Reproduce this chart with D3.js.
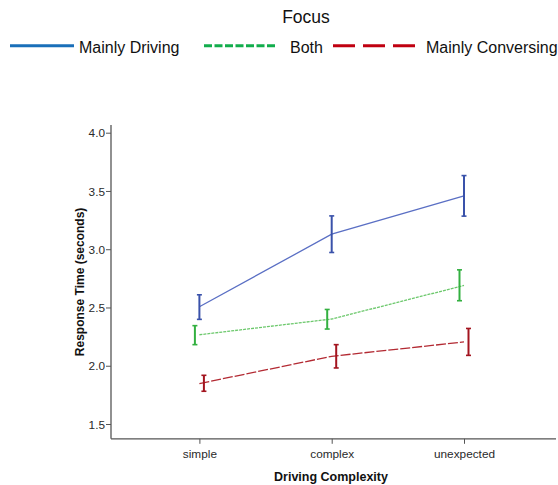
<!DOCTYPE html>
<html>
<head>
<meta charset="utf-8">
<script src="https://cdn.jsdelivr.net/npm/d3@7"></script>
<style>
  html, body { margin: 0; padding: 0; background: #fff; }
  svg { display: block; font-family: "Liberation Sans", Arial, sans-serif; }
</style>
</head>
<body>
<svg id="chart" width="558" height="485"></svg>
<script>
// Driving complexity levels (x axis)
const categories = ["simple", "complex", "unexpected"];

// Mean response time (seconds) for each focus group
const drivingMean = [2.506, 3.129, 3.458];
const bothMean = [2.266, 2.401, 2.689];
const conversingMean = [1.847, 2.081, 2.204];

// Error bar bounds
const drivingLow = [2.398, 2.972, 3.284];
const drivingHigh = [2.609, 3.286, 3.632];
const bothLow = [2.181, 2.315, 2.558];
const bothHigh = [2.344, 2.483, 2.823];
const conversingLow = [1.781, 1.981, 2.089];
const conversingHigh = [1.918, 2.181, 2.320];

// Y axis ticks
const yTicks = [1.5, 2.0, 2.5, 3.0, 3.5, 4.0];

const series = [
  { name: "Mainly Driving", mean: drivingMean, low: drivingLow, high: drivingHigh,
    legendColor: "#1a6fb9", lineColor: "#5a6fc4", barColor: "#3a52aa",
    legendDash: null, lineDash: null, dodge: 0 },
  { name: "Both", mean: bothMean, low: bothLow, high: bothHigh,
    legendColor: "#12ad4c", lineColor: "#6cc86c", barColor: "#33b040",
    legendDash: "8,2.5", lineDash: "3,1", dodge: -4.5 },
  { name: "Mainly Conversing", mean: conversingMean, low: conversingLow, high: conversingHigh,
    legendColor: "#c00010", lineColor: "#b32a33", barColor: "#a3141f",
    legendDash: "22,8", lineDash: "10,2", dodge: 4.5 }
];

const svg = d3.select("#chart");

const axisLeftX = 111;
const axisRightX = 556;
const x = d3.scalePoint().domain(categories).range([199.4, 464]);
const y = d3.scaleLinear().domain([1.5, 4.0]).range([424, 132.7]);
const yMin = 1.373, yMax = 4.066;

// Legend
svg.append("text")
  .attr("x", 306).attr("y", 23)
  .attr("text-anchor", "middle")
  .attr("font-size", 17.5)
  .attr("fill", "#111")
  .text("Focus");

const legendItems = [
  { x1: 10, x2: 74, tx: 79 },
  { x1: 204, x2: 277, tx: 290 },
  { x1: 333, x2: 419, tx: 426 }
];
legendItems.forEach((li, i) => {
  const s = series[i];
  svg.append("line")
    .attr("x1", li.x1).attr("x2", li.x2)
    .attr("y1", 45.7).attr("y2", 45.7)
    .attr("stroke", s.legendColor)
    .attr("stroke-width", 3)
    .attr("stroke-dasharray", s.legendDash);
  svg.append("text")
    .attr("x", li.tx).attr("y", 52.5)
    .attr("font-size", 16)
    .attr("fill", "#111")
    .text(s.name);
});

// Axes
const gx = svg.append("g").attr("transform", `translate(0,${y(yMin)})`);
gx.call(d3.axisBottom(x).tickSize(5).tickPadding(6));
gx.select(".domain").remove();
gx.append("line")
  .attr("x1", axisLeftX).attr("x2", axisRightX)
  .attr("y1", 0).attr("y2", 0)
  .attr("stroke", "#555").attr("stroke-width", 1.3);

const gy = svg.append("g").attr("transform", `translate(${axisLeftX},0)`);
gy.call(d3.axisLeft(y).tickValues(yTicks).tickFormat(d3.format(".1f")).tickSize(5).tickPadding(1));
gy.select(".domain").remove();
gy.append("line")
  .attr("x1", 0).attr("x2", 0)
  .attr("y1", y(yMax)).attr("y2", y(yMin))
  .attr("stroke", "#555").attr("stroke-width", 1.3);

[gx, gy].forEach(g => {
  g.selectAll(".tick line").attr("stroke", "#555");
  g.selectAll(".tick text")
    .attr("fill", "#2a2a2a")
    .attr("font-size", 11.8)
    .attr("font-family", "'Liberation Sans', Arial, sans-serif");
});
gy.selectAll(".tick text").attr("dy", "0.36em");

// Axis titles
svg.append("text")
  .attr("x", 331).attr("y", 481)
  .attr("text-anchor", "middle")
  .attr("font-size", 12.5)
  .attr("font-weight", "bold")
  .attr("fill", "#111")
  .text("Driving Complexity");

svg.append("text")
  .attr("transform", `translate(84,${(y(yMax) + y(yMin)) / 2}) rotate(-90)`)
  .attr("text-anchor", "middle")
  .attr("font-size", 12)
  .attr("font-weight", "bold")
  .attr("fill", "#111")
  .text("Response Time (seconds)");

// Lines and error bars
const line = d3.line()
  .x((d, i) => x(categories[i]))
  .y(d => y(d));

series.forEach(s => {
  svg.append("path")
    .datum(s.mean)
    .attr("d", line)
    .attr("fill", "none")
    .attr("stroke", s.lineColor)
    .attr("stroke-width", 1.3)
    .attr("stroke-dasharray", s.lineDash);

  const g = svg.append("g").attr("stroke", s.barColor).attr("stroke-width", 2);
  categories.forEach((c, i) => {
    const cx = x(c) + s.dodge;
    g.append("line")
      .attr("x1", cx).attr("x2", cx)
      .attr("y1", y(s.high[i])).attr("y2", y(s.low[i]));
    g.append("line")
      .attr("x1", cx - 2.5).attr("x2", cx + 2.5)
      .attr("y1", y(s.high[i])).attr("y2", y(s.high[i]))
      .attr("stroke-width", 1.6);
    g.append("line")
      .attr("x1", cx - 2.5).attr("x2", cx + 2.5)
      .attr("y1", y(s.low[i])).attr("y2", y(s.low[i]))
      .attr("stroke-width", 1.6);
  });
});
</script>
</body>
</html>
